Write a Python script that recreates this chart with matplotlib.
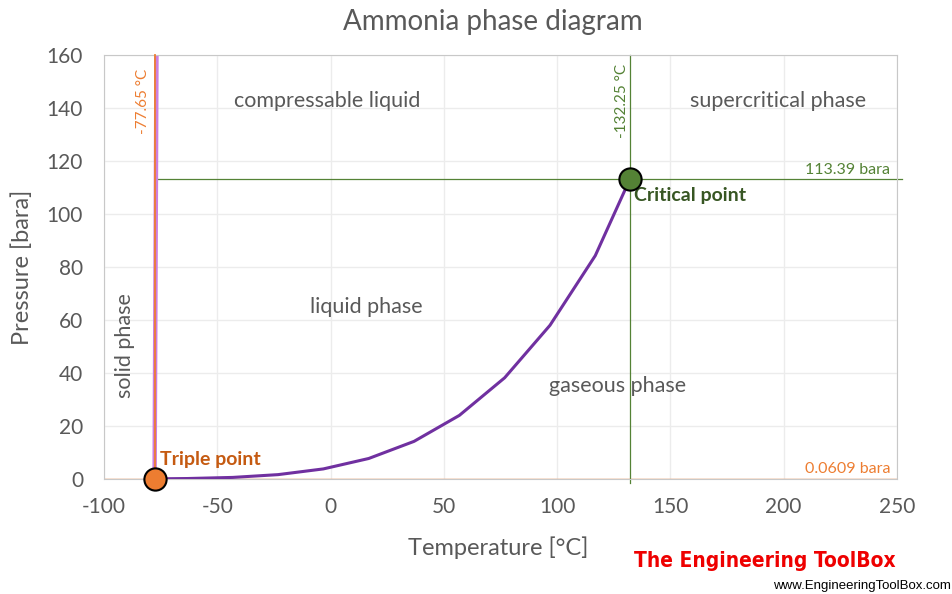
import matplotlib
matplotlib.use("Agg")
import matplotlib.pyplot as plt

plt.rcParams['font.family'] = ['Lato', 'DejaVu Sans']
plt.rcParams['axes.unicode_minus'] = False

# vapour pressure curve (triple point -> critical point)
temp_vap = [-77.65, -63.15, -43.15, -23.15, -3.15, 16.85, 36.85, 56.85, 76.85, 96.85, 116.85, 132.25]
pres_vap = [0.0609, 0.18, 0.60, 1.65, 3.81, 7.74, 14.2, 24.0, 38.2, 58.0, 84.3, 113.39]

# melting curve
temp_melt = [-77.65, -76.8]
pres_melt = [0.0609, 165]

triple_t, triple_p = -77.65, 0.0609
crit_t, crit_p = 132.25, 113.39

xticks = [-100, -50, 0, 50, 100, 150, 200, 250]
yticks = [0, 20, 40, 60, 80, 100, 120, 140, 160]

gray = '#595959'
orange = '#ed7d31'
orange_txt = '#c55a11'
green = '#548235'
green_dk = '#375623'
purple = '#7030a0'
violet = '#cc7fe0'

fig = plt.figure(figsize=(9.52, 5.94), dpi=100)
ax = fig.add_axes([0.1092, 0.1936, 0.833, 0.7138])

ax.set_xlim(-100, 250)
ax.set_ylim(0, 160)
ax.set_xticks(xticks)
ax.set_yticks(yticks)
ax.grid(True, color='#ececec', lw=1)
ax.set_axisbelow(True)
for s in ax.spines.values():
    s.set_color('#c8c8c8')
ax.tick_params(length=0, labelsize=15, colors=gray)
ax.tick_params(axis='x', pad=13)
ax.tick_params(axis='y', pad=15)

# reference lines
ax.axhline(triple_p, color=orange, lw=1, zorder=2)
ax.plot([-76.5, 252], [crit_p, crit_p], color=green, lw=0.9, zorder=2, clip_on=False)
ax.plot([crit_t, crit_t], [-1.5, 160], color=green, lw=0.9, zorder=2, clip_on=False)

ax.plot(temp_melt, pres_melt, color=violet, lw=3.2, zorder=2.5)
ax.plot([triple_t, triple_t], [-3, 160], color=orange, lw=1.3, zorder=3, clip_on=False)
ax.plot(temp_vap, pres_vap, color=purple, lw=2.2, zorder=4)

ax.plot(triple_t, triple_p, 'o', ms=16, mfc=orange, mec='black', mew=1.5, zorder=6, clip_on=False)
ax.plot(crit_t, crit_p, 'o', ms=16, mfc=green, mec='black', mew=1.5, zorder=6)

ax.text(-75.3, 7.5, 'Triple point', color=orange_txt, fontsize=14, fontweight='bold', va='center')
ax.text(134, 106.8, 'Critical point', color=green_dk, fontsize=14, fontweight='bold', va='center')

ax.text(-82.8, 142.5, '-77.65 °C', color=orange, fontsize=11, rotation=90, ha='center', va='center')
ax.text(128.6, 142.5, '-132.25 °C', color=green, fontsize=11, rotation=90, ha='center', va='center')
ax.text(247, crit_p + 0.6, '113.39 bara', color=green, fontsize=11.5, ha='right', va='bottom')
ax.text(247, 1.0, '0.0609 bara', color=orange, fontsize=11.5, ha='right', va='bottom')

ax.text(-1.5, 142.5, 'compressable liquid', color=gray, fontsize=15.5, ha='center', va='center')
ax.text(197.5, 142.5, 'supercritical phase', color=gray, fontsize=15.5, ha='center', va='center')
ax.text(16, 65, 'liquid phase', color=gray, fontsize=15.5, ha='center', va='center')
ax.text(126.5, 35, 'gaseous phase', color=gray, fontsize=15.5, ha='center', va='center')
ax.text(-90.7, 50.5, 'solid phase', color=gray, fontsize=15.5, rotation=90, ha='center', va='center')

fig.text(0.518, 1 - 22 / 594, 'Ammonia phase diagram', color=gray, fontsize=20, ha='center', va='center')
fig.text(0.523, 1 - 548 / 594, 'Temperature [°C]', color=gray, fontsize=17, ha='center', va='center')
fig.text(0.0231, 1 - 267 / 594, 'Pressure [bara]', color=gray, fontsize=17, rotation=90,
         ha='center', va='center')

fig.text(0.8036, 1 - 561 / 594, 'The Engineering ToolBox', color='#ee0000', fontsize=15,
         fontweight='bold', fontstretch='condensed', ha='center', va='center',
         family=['DejaVu Sans'])
fig.text(0.999, 1 - 586 / 594, 'www.EngineeringToolBox.com', color='black', fontsize=9.5,
         ha='right', va='center', family=['Liberation Sans', 'DejaVu Sans'])

fig.savefig('out.png', dpi=100)
